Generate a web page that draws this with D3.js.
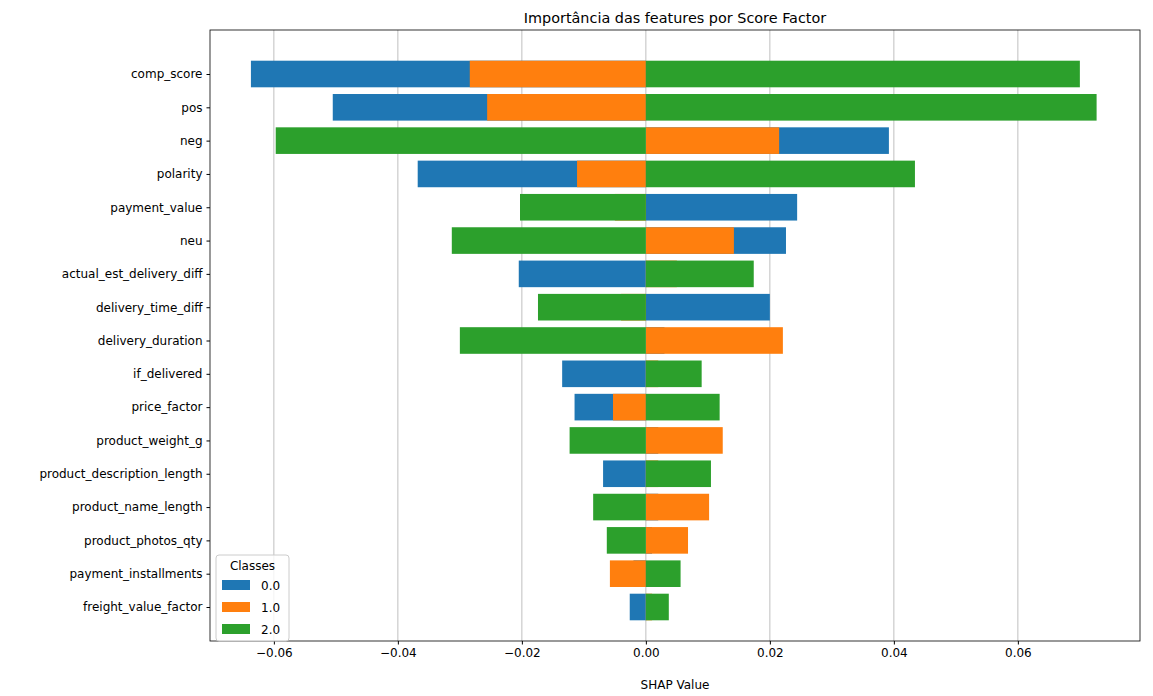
<!DOCTYPE html>
<html><head><meta charset="utf-8">
<script src="https://cdn.jsdelivr.net/npm/d3@7"></script>
<style>body{margin:0;background:#fff}text{font-family:"DejaVu Sans",sans-serif}</style>
</head><body><svg id="c" width="1153" height="696"></svg>
<script>
const features = ["comp_score","pos","neg","polarity","payment_value","neu","actual_est_delivery_diff","delivery_time_diff","delivery_duration","if_delivered","price_factor","product_weight_g","product_description_length","product_name_length","product_photos_qty","payment_installments","freight_value_factor"];
const classes = ["0.0","1.0","2.0"];
const class0 = [-0.0637,-0.0505,0.0392,-0.0368,0.0244,0.0226,-0.0205,0.0200,0.003,-0.0135,-0.0115,0.002,-0.0069,0.002,0.001,-0.002,-0.0026];
const class1 = [-0.0284,-0.0256,0.0215,-0.0111,-0.005,0.0142,0.005,-0.004,0.0221,0.002,-0.0053,0.0124,0.002,0.0102,0.0068,-0.0058,0.001];
const class2 = [0.0700,0.0727,-0.0597,0.0434,-0.0203,-0.0313,0.0174,-0.0174,-0.0300,0.0090,0.0119,-0.0123,0.0105,-0.0085,-0.0063,0.0056,0.0037];
const xTicks = [-0.06,-0.04,-0.02,0,0.02,0.04,0.06];
const colors = ["#1f77b4","#ff7f0e","#2ca02c"];

const svg = d3.select("#c");
const L=210,R=1140,T=30,B=641;
const x = d3.scaleLinear().domain([-0.0703,0.0797]).range([L,R]);
const y = d3.scalePoint().domain(features).range([74,607]);
const bh = 26.6;

svg.append("g").selectAll("line").data(xTicks).join("line")
  .attr("x1",d=>x(d)).attr("x2",d=>x(d)).attr("y1",T).attr("y2",B)
  .attr("stroke","#b0b0b0").attr("stroke-width",0.8);

[class0,class1,class2].forEach((vals,ci)=>{
  svg.append("g").selectAll("rect").data(vals).join("rect")
    .attr("x",d=>Math.min(x(0),x(d))).attr("width",d=>Math.abs(x(d)-x(0)))
    .attr("y",(d,i)=>y(features[i])-bh/2).attr("height",bh)
    .attr("fill",colors[ci]);
});

svg.append("rect").attr("x",L).attr("y",T).attr("width",R-L).attr("height",B-T)
  .attr("fill","none").attr("stroke","#000").attr("stroke-width",0.8);

const xa = svg.append("g").attr("transform",`translate(0,${B})`)
  .call(d3.axisBottom(x).tickValues(xTicks).tickSize(3.5).tickPadding(4)
  .tickFormat(d=>d===0?"0.00":d3.format(".2f")(d).replace("-","\u2212")));
xa.select(".domain").remove();
xa.selectAll("text").attr("font-size",12).attr("fill","#000").style("font-family","DejaVu Sans");
const ya = svg.append("g").attr("transform",`translate(${L},0)`)
  .call(d3.axisLeft(y).tickSize(3.5).tickPadding(4));
ya.select(".domain").remove();
ya.selectAll("text").attr("font-size",12).attr("fill","#000").style("font-family","DejaVu Sans");

svg.append("text").attr("x",(L+R)/2).attr("y",23).attr("text-anchor","middle")
  .attr("font-size",14.4).text("Importância das features por Score Factor");
svg.append("text").attr("x",(L+R)/2).attr("y",689).attr("text-anchor","middle")
  .attr("font-size",12).text("SHAP Value");

const lg = svg.append("g").attr("transform","translate(216,555)");
lg.append("rect").attr("width",73).attr("height",86).attr("rx",3)
  .attr("fill","#fff").attr("fill-opacity",0.8).attr("stroke","#ccc");
lg.append("text").attr("x",36.5).attr("y",15).attr("text-anchor","middle").attr("font-size",12).text("Classes");
classes.forEach((c,i)=>{
  lg.append("rect").attr("x",6).attr("y",25+i*22).attr("width",28).attr("height",10).attr("fill",colors[i]);
  lg.append("text").attr("x",45).attr("y",34.5+i*22).attr("font-size",12).text(c);
});
</script></body></html>
